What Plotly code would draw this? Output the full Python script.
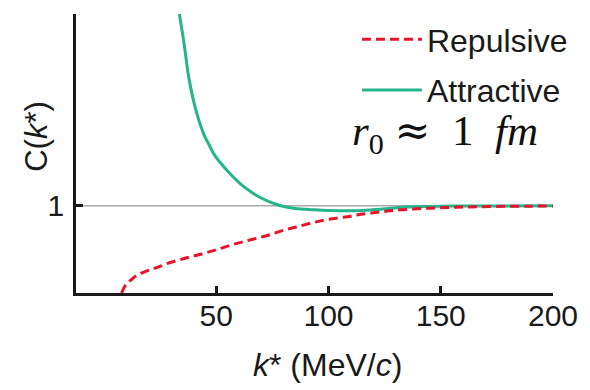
import plotly.graph_objects as go

# Repulsive correlation function (red dashed)
rep_k = [7.8, 9.7, 12.0, 14.9, 19.4, 23.8, 28.3, 35.7, 43.1, 50.5, 57.9, 65.3, 72.8, 80, 87,
         93.5, 100, 108.4, 115, 123.2, 130, 138, 145, 152.8, 160, 167.6, 180, 190, 200]
rep_c = [0.0, 0.094, 0.15, 0.207, 0.256, 0.294, 0.34, 0.395, 0.445, 0.50, 0.56, 0.61, 0.66, 0.72, 0.765,
         0.81, 0.845, 0.875, 0.905, 0.93, 0.95, 0.963, 0.973, 0.98, 0.986, 0.99, 0.994, 0.996, 0.998]

# Attractive correlation function (green solid)
att_k = [33.5, 35.7, 37.9, 40.9, 44.6, 46.8, 49.0, 55.0, 60.9, 65.4, 70, 74.3, 78.7, 85, 93.5, 100,
         108.4, 115, 123.2, 135, 145, 160, 180, 200]
att_c = [3.21, 2.85, 2.45, 2.1, 1.81, 1.70, 1.59, 1.40, 1.25, 1.16, 1.09, 1.04, 1.0, 0.97, 0.955, 0.947,
         0.943, 0.947, 0.96, 0.985, 0.993, 0.997, 0.999, 1.0]

x_ticks = [50, 100, 150, 200]
y_ticks = [1]
y_tick_text = ["1"]

SANS = "Liberation Sans, Arial, sans-serif"
SERIF = "Liberation Serif, Times New Roman, serif"

fig = go.Figure()
fig.add_trace(go.Scatter(x=att_k, y=att_c, mode="lines", name="Attractive",
                         line=dict(color="#26b48c", width=3, shape="spline", smoothing=1.2),
                         legendrank=2, legendgroup="a"))
fig.add_trace(go.Scatter(x=rep_k, y=rep_c, mode="lines", name="Repulsive",
                         line=dict(color="#e8132a", width=3, dash="9px,5px", shape="spline"),
                         legendrank=1, legendgroup="r"))

fig.add_hline(y=1, line=dict(color="#aaaaaa", width=1.5), layer="below")

fig.update_layout(
    width=590, height=390,
    margin=dict(l=76, r=37, t=12, b=97),
    plot_bgcolor="white", paper_bgcolor="white",
    font=dict(family=SANS, size=30, color="#1a1a1a"),
    showlegend=True,
    legend=dict(x=0.589, y=1.007, xanchor="left", yanchor="top",
                bgcolor="rgba(0,0,0,0)", font=dict(size=32, family=SANS),
                tracegroupgap=6, itemwidth=60),
    xaxis=dict(range=[-12.5, 200], tickvals=x_ticks, ticks="inside", ticklen=7,
               tickwidth=2.5, tickcolor="#1a1a1a", showline=True, linecolor="#1a1a1a",
               linewidth=2.5, showgrid=False, zeroline=False, ticklabelstandoff=-6),
    yaxis=dict(range=[0, 3.2], tickvals=y_ticks, ticktext=y_tick_text, ticks="inside",
               ticklen=7, tickwidth=2.5, tickcolor="#1a1a1a", showline=True,
               linecolor="#1a1a1a", linewidth=2.5, showgrid=False, zeroline=False,
               ticklabelstandoff=3),
)

fig.add_annotation(text="<i>k</i>* (MeV/<i>c</i>)", xref="paper", yref="paper",
                   x=0.528, y=-0.258, xanchor="center", yanchor="middle",
                   showarrow=False, font=dict(size=32, family=SANS))
fig.add_annotation(text="C(<i>k</i>*)", xref="paper", yref="paper",
                   x=-0.082, y=0.563, xanchor="center", yanchor="middle", textangle=-90,
                   showarrow=False, font=dict(size=31, family=SANS))
fig.add_annotation(text="<i>r</i><sub>0</sub>&nbsp;<span style=\"font-family:DejaVu Serif\">≈</span>"
                        "&nbsp;&nbsp;1&nbsp;&nbsp;<i>fm</i>",
                   xref="paper", yref="paper",
                   x=0.773, y=0.573, xanchor="center", yanchor="middle",
                   showarrow=False, font=dict(size=43, family=SERIF, color="#111111"))

fig.write_html("out.html", post_script="document.body.style.margin='0px';",
               config={"displayModeBar": False})
